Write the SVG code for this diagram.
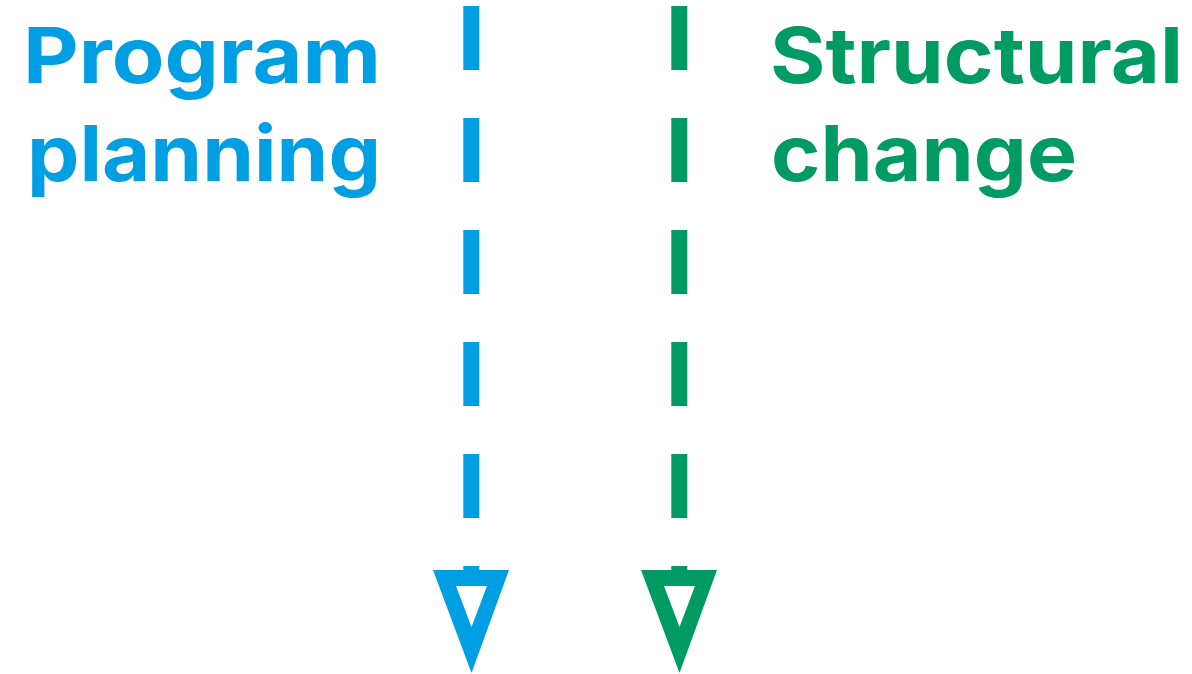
<svg xmlns="http://www.w3.org/2000/svg" width="1192" height="674" viewBox="0 0 1192 674">
<style>
.lbl{font-family:Inter,"Open Sans","Liberation Sans",sans-serif;font-weight:700;font-size:77px}
.blue{fill:#009fe3}
.green{fill:#009a63}
.dash{stroke-width:16;stroke-dasharray:64 48;fill:none}
</style>
<rect width="1192" height="674" fill="#ffffff"/>
<g id="program-planning">
<text class="lbl blue" x="381" y="83" text-anchor="end" textLength="358" lengthAdjust="spacingAndGlyphs">Program</text>
<text class="lbl blue" x="381" y="181" text-anchor="end" textLength="354" lengthAdjust="spacingAndGlyphs">planning</text>
</g>
<g id="structural-change">
<text class="lbl green" x="770" y="83" textLength="413" lengthAdjust="spacingAndGlyphs">Structural</text>
<text class="lbl green" x="771" y="181" textLength="306" lengthAdjust="spacingAndGlyphs">change</text>
</g>
<g id="connectors">
<line class="dash" x1="471.3" y1="6" x2="471.3" y2="572" stroke="#009fe3"/>
<path fill="#009fe3" fill-rule="evenodd" d="M433,570 L509,570 L471.5,673 Z M456,586 L487,586 L471.5,627 Z"/>
<line class="dash" x1="679.3" y1="6" x2="679.3" y2="572" stroke="#009a63"/>
<path fill="#009a63" fill-rule="evenodd" d="M641,570 L717,570 L679.5,673 Z M664,586 L695,586 L679.5,627 Z"/>
</g>
</svg>
